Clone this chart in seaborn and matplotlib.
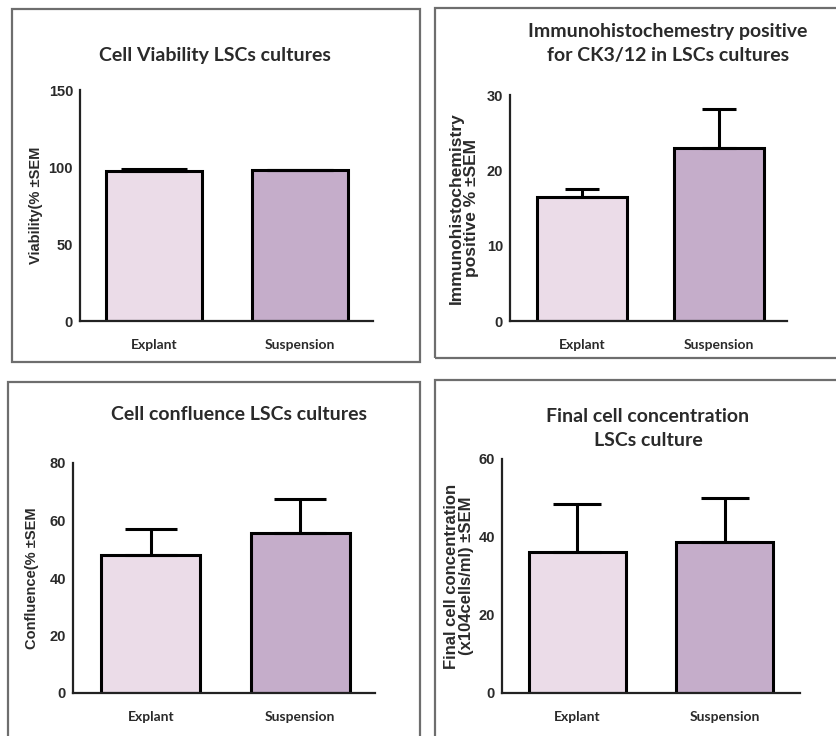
import matplotlib
matplotlib.use("Agg")
import matplotlib.pyplot as plt
import pandas as pd
import seaborn as sns
from matplotlib.patches import Rectangle


# Datos (media y SEM).
CATEGORIAS = ["Explant", "Suspension"]
VIABILIDAD = [97.5, 98.0]
VIABILIDAD_SEM = [1.0, 0.0]
IHQ = [16.5, 22.9]
IHQ_SEM = [1.0, 5.3]
CONFLUENCIA = [48.1, 55.8]
CONFLUENCIA_SEM = [8.8, 11.6]
CONCENTRACION = [36.2, 38.7]
CONCENTRACION_SEM = [12.2, 11.4]

COLORES = ["#eedaea", "#c8a8cf"]
W, H = 837, 736
FUENTE = ["Lato", "DejaVu Sans"]
FUENTE_EJES = ["Liberation Sans", "DejaVu Sans"]


def px(left, top, right, bottom):
    """Convierte una caja en pixeles (origen arriba) a coordenadas de figura."""
    return [left / W, 1 - bottom / H, (right - left) / W, (bottom - top) / H]


def dibujar_panel(fig, caja, xlim, valores, sem, ymax, paso, titulo, titulo_xy,
                  ylabel, ylabel_x, ylabel_size, capsize):
    ax = fig.add_axes(px(*caja))
    df = pd.DataFrame({"grupo": CATEGORIAS, "valor": valores})
    sns.barplot(data=df, x="grupo", y="valor", hue="grupo", palette=COLORES,
                width=0.66, edgecolor="black", linewidth=2.2, legend=False, ax=ax)
    ax.errorbar(range(len(valores)), valores, yerr=[[0] * len(sem), sem],
                fmt="none", ecolor="black", elinewidth=2.2, capsize=capsize,
                capthick=2.2, zorder=1)
    ax.set_xlim(*xlim)
    ax.set_ylim(0, ymax)
    ax.set_yticks(range(0, ymax + 1, paso))
    ax.set_xlabel("")
    ax.set_ylabel("")
    for lado in ["top", "right"]:
        ax.spines[lado].set_visible(False)
    for lado in ["left", "bottom"]:
        ax.spines[lado].set_linewidth(1.6)
        ax.spines[lado].set_color("#222222")
    ax.tick_params(axis="y", length=4, width=1.4, pad=1, labelsize=10.5)
    ax.tick_params(axis="x", length=4, width=1.4, pad=9, labelsize=10)
    for lab in ax.get_yticklabels():
        lab.set_fontweight("bold")
        lab.set_family(FUENTE_EJES)
        lab.set_color("#2a2a2a")
    for lab in ax.get_xticklabels():
        lab.set_fontweight("bold")
        lab.set_family(FUENTE)
        lab.set_color("#2a2a2a")
    fig.text(titulo_xy[0] / W, 1 - titulo_xy[1] / H, titulo, ha="center",
             va="center", fontsize=14, fontweight="bold", family=FUENTE,
             color="#2a2a2a", linespacing=1.5)
    centro_y = 1 - (caja[1] + caja[3]) / 2 / H
    fig.text(ylabel_x / W, centro_y, ylabel, ha="center", va="center",
             rotation=90, fontsize=ylabel_size, fontweight="bold",
             family=FUENTE_EJES, color="#2a2a2a", linespacing=1.05)
    return ax


def main() -> None:
    sns.set_style("white")
    fig = plt.figure(figsize=(W / 100, H / 100), dpi=100)

    # Marcos grises de cada panel.
    for left, top, right, bottom in [(12, 9, 420, 362), (435, 8, 845, 358),
                                     (8, 382, 420, 745), (435, 380, 845, 745)]:
        fig.patches.append(Rectangle((left / W, 1 - bottom / H),
                                     (right - left) / W, (bottom - top) / H,
                                     transform=fig.transFigure, fill=False,
                                     edgecolor="#6e6e6e", linewidth=1.6))

    dibujar_panel(fig, (80, 90, 373, 321), (-0.51, 1.50), VIABILIDAD,
                  VIABILIDAD_SEM, 150, 50, "Cell Viability LSCs cultures",
                  (215, 55), "Viability(% ±SEM", 36, 10.5, 24)
    dibujar_panel(fig, (510, 95, 787, 321), (-0.53, 1.50), IHQ, IHQ_SEM, 30,
                  10, "Immunohistochemestry positive\nfor CK3/12 in LSCs cultures",
                  (668, 43.5), "Immunohistochemistry\npositive % ±SEM", 464,
                  12.5, 12.5)
    dibujar_panel(fig, (73, 463, 375, 693), (-0.52, 1.50), CONFLUENCIA,
                  CONFLUENCIA_SEM, 80, 20, "Cell confluence LSCs cultures",
                  (239, 415), "Confluence(% ±SEM", 32, 10.5, 18.5)
    dibujar_panel(fig, (502, 459, 800, 693), (-0.51, 1.51), CONCENTRACION,
                  CONCENTRACION_SEM, 60, 20,
                  "Final cell concentration\nLSCs culture", (648, 428.5),
                  "Final cell concentration\n(x104cells/ml) ±SEM", 459, 12,
                  17)

    fig.savefig("out.png", dpi=100, facecolor="white")
    plt.close(fig)


if __name__ == "__main__":
    main()
